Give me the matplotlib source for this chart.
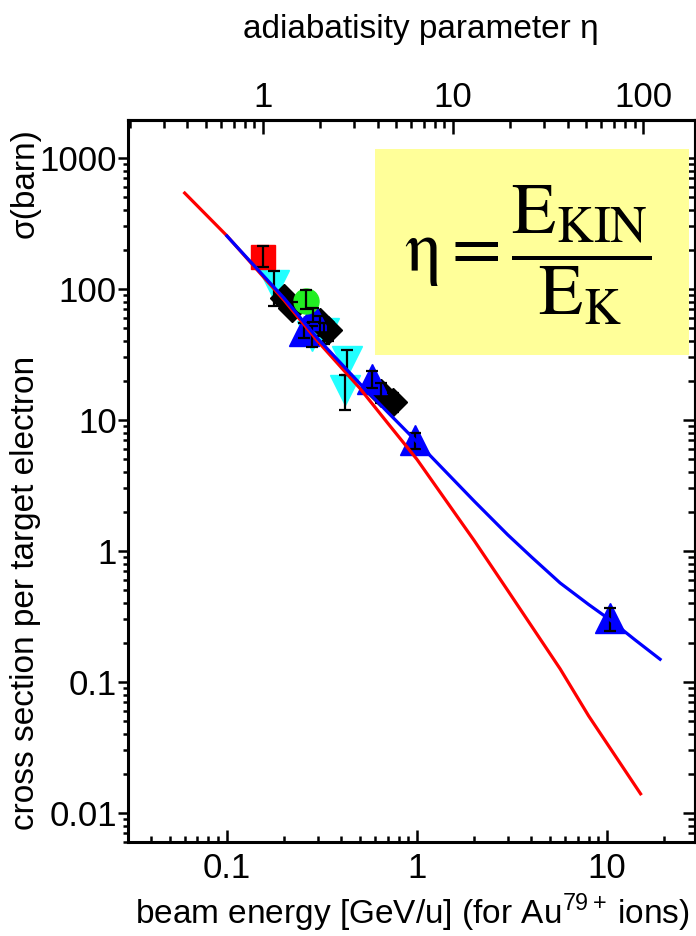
import matplotlib
matplotlib.use('Agg')
import matplotlib.pyplot as plt
from matplotlib.ticker import FuncFormatter, FixedLocator, LogLocator, NullFormatter
from matplotlib.patches import Rectangle

plt.rcParams['font.family'] = ['Liberation Sans', 'DejaVu Sans']

## Data

# theory curves (beam energy GeV/u, cross section barn)
red_E = [0.06, 0.1, 0.2, 0.3, 0.5, 0.7, 1.0, 1.4, 2.0, 3.0, 5.66, 8.0, 15.0]
red_sig = [540, 255, 82, 40, 17.5, 9.5, 5.0, 2.5, 1.2, 0.5, 0.126, 0.055, 0.014]

blue_E = [0.1, 0.2, 0.3, 0.5, 0.7, 1.0, 1.4, 2.0, 3.0, 4.0, 5.66, 8.0, 10.3, 14.0, 19.0]
blue_sig = [254, 85, 42, 19, 11.5, 6.8, 4.1, 2.4, 1.33, 0.9, 0.57, 0.39, 0.30, 0.21, 0.149]

# measured points: energy, sigma, lower and upper end of error bar
sq_E = [0.154]
sq_sig = [175]
sq_lo = [146]
sq_hi = [212]

cyan_E = [0.177, 0.28, 0.325, 0.426, 0.418]
cyan_sig = [108, 44, 46, 28, 17]
cyan_lo = [74, 36, 38, 22, 12]
cyan_hi = [137, 52, 55, 34, 22]

blue_pt_E = [0.255, 0.285, 0.578, 0.976, 10.3]
blue_pt_sig = [48, 63, 20.4, 7.0, 0.31]
blue_pt_lo = [42, 56, 17.5, 6.0, 0.245]
blue_pt_hi = [55, 71, 23.5, 8.0, 0.369]

dia_E = [0.2, 0.22, 0.31, 0.34, 0.65, 0.75]
dia_sig = [85, 72, 56, 49, 16.2, 13.6]
dia_lo = [80, 66, 44, 40, 13.5, 11.5]
dia_hi = [95, 80, 62, 55, 19.0, 16.0]

green_E = [0.26]
green_sig = [81]
green_lo = [70]
green_hi = [98]

# eta = E / e_eta1  (eta = 1 at this beam energy)
e_eta1 = 0.155

x_ticks = [0.1, 1, 10]
y_ticks = [0.01, 0.1, 1, 10, 100, 1000]
eta_ticks = [1, 10, 100]

## Plot

fig = plt.figure(figsize=(6.96, 9.36), dpi=100)
ax = fig.add_axes([128/696, 94/936, 567/696, 722/936])
ax.set_xscale('log')
ax.set_yscale('log')
ax.set_xlim(0.0302, 29.0)
ax.set_ylim(0.006, 1950)

def with_err(x, y, lo, hi, marker, color, ms):
    ax.plot(x, y, ls='none', marker=marker, ms=ms, color=color, mec=color, zorder=2)
    yerr = [[v - l for v, l in zip(y, lo)], [h - v for v, h in zip(y, hi)]]
    ax.errorbar(x, y, yerr=yerr, fmt='none', ecolor='k', elinewidth=1.6,
                capsize=4, capthick=1.6, zorder=3)

with_err(cyan_E, cyan_sig, cyan_lo, cyan_hi, 'v', '#22ffff', 22)
with_err(dia_E, dia_sig, dia_lo, dia_hi, 'D', 'black', 14)
with_err(blue_pt_E, blue_pt_sig, blue_pt_lo, blue_pt_hi, '^', '#0000ff', 22)
with_err(sq_E, sq_sig, sq_lo, sq_hi, 's', '#ff0000', 17)
with_err(green_E, green_sig, green_lo, green_hi, 'o', '#22ee22', 18)

ax.plot(red_E, red_sig, color='#ff0000', lw=2.3, zorder=4)
ax.plot(blue_E, blue_sig, color='#0000ff', lw=2.3, zorder=5)

# yellow box with eta definition
ax.add_patch(Rectangle((0.435, 0.675), 0.555, 0.285, transform=ax.transAxes,
                       facecolor='#ffff99', edgecolor='none', zorder=1))
ax.text(0.705, 0.813, r'$\mathrm{η} = \dfrac{\mathrm{E}_{\mathrm{KIN}}}{\mathrm{E}_{\mathrm{K}}}$',
        transform=ax.transAxes, ha='center', va='center', fontsize=52,
        math_fontfamily='stix', zorder=6)

# axes look
for s in ax.spines.values():
    s.set_linewidth(2.2)

fmt = FuncFormatter(lambda v, _: '%g' % v)
ax.xaxis.set_major_locator(FixedLocator(x_ticks))
ax.xaxis.set_major_formatter(fmt)
ax.xaxis.set_minor_locator(LogLocator(base=10, subs=range(2, 10), numticks=20))
ax.xaxis.set_minor_formatter(NullFormatter())
ax.yaxis.set_major_locator(FixedLocator(y_ticks))
ax.yaxis.set_major_formatter(fmt)
ax.yaxis.set_minor_locator(LogLocator(base=10, subs=range(2, 10), numticks=20))
ax.yaxis.set_minor_formatter(NullFormatter())

ax.tick_params(axis='x', which='both', direction='in', top=False, bottom=True,
               labelsize=25, width=1.8, pad=7)
ax.tick_params(axis='x', which='major', length=9)
ax.tick_params(axis='x', which='minor', length=4.5)
ax.tick_params(axis='y', which='both', direction='out', left=True, right=False,
               labelsize=25, width=1.8, pad=1)
ax.tick_params(axis='y', which='major', length=7)
ax.tick_params(axis='y', which='minor', length=3.5)

# right side: inward ticks, no labels
ry = ax.secondary_yaxis('right')
ry.yaxis.set_major_locator(FixedLocator(y_ticks))
ry.yaxis.set_minor_locator(LogLocator(base=10, subs=range(2, 10), numticks=20))
ry.yaxis.set_major_formatter(NullFormatter())
ry.yaxis.set_minor_formatter(NullFormatter())
ry.tick_params(which='both', direction='in', width=1.8)
ry.tick_params(which='major', length=9)
ry.tick_params(which='minor', length=5)
ry.spines['right'].set_linewidth(2.2)

# top side: adiabatisity parameter
top = ax.secondary_xaxis('top', functions=(lambda e: e / e_eta1, lambda n: n * e_eta1))
top.xaxis.set_major_locator(FixedLocator(eta_ticks))
top.xaxis.set_major_formatter(fmt)
top.xaxis.set_minor_locator(LogLocator(base=10, subs=range(2, 10), numticks=20))
top.xaxis.set_minor_formatter(NullFormatter())
top.tick_params(which='both', direction='in', width=1.8, labelsize=25, pad=4)
top.tick_params(which='major', length=10)
top.tick_params(which='minor', length=6)
top.spines['top'].set_linewidth(2.2)

fig.text(0.605, 0.968, 'adiabatisity parameter \u03b7', ha='center', va='center', fontsize=24)
fig.text(0.593, 0.025, r'beam energy [GeV/u] (for Au$^{\mathregular{79+}}\,$ions)',
         ha='center', va='center', fontsize=24)
fig.text(0.036, 0.367, 'cross section per target electron', rotation=90,
         ha='center', va='center', fontsize=24)
fig.text(0.036, 0.804, '\u03c3(barn)', rotation=90, ha='center', va='center', fontsize=24)

fig.savefig('out.png', dpi=100)
